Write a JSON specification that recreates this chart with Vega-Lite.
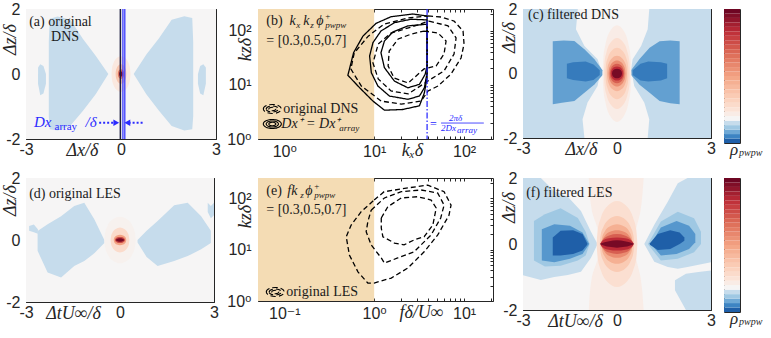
{
"$schema":"https://vega.github.io/schema/vega-lite/v6.json",
"background":"white",
"padding":0,
"datasets":{
"bg":[{"p":"a","x1":-3,"x2":3,"z1":-2,"z2":2,"v":0.01},{"p":"c","x1":-3,"x2":3,"z1":-2,"z2":2,"v":-0.01},{"p":"d","x1":-3,"x2":3,"z1":-2,"z2":2,"v":0.01},{"p":"f","x1":-3,"x2":3,"z1":-2,"z2":2,"v":0.01}],
"hz":[
{"p":"c","id":"cH","v":0.01,"z":2.0,"l":-1.25,"r":1.03},{"p":"c","id":"cH","v":0.01,"z":1.37,"l":-1.31,"r":0.98},{"p":"c","id":"cH","v":0.01,"z":0.85,"l":-1.04,"r":0.77},{"p":"c","id":"cH","v":0.01,"z":0.44,"l":-0.62,"r":0.5},{"p":"c","id":"cH","v":0.01,"z":0.13,"l":-0.51,"r":0.45},{"p":"c","id":"cH","v":0.01,"z":-0.39,"l":-0.62,"r":0.55},{"p":"c","id":"cH","v":0.01,"z":-0.9,"l":-0.94,"r":0.87},{"p":"c","id":"cH","v":0.01,"z":-1.42,"l":-1.1,"r":1.03},{"p":"c","id":"cH","v":0.01,"z":-2.0,"l":-1.04,"r":0.98},
{"p":"f","id":"fP","v":0.03,"z":2.0,"l":-0.9,"r":0.85},{"p":"f","id":"fP","v":0.03,"z":1.0,"l":-0.8,"r":0.75},{"p":"f","id":"fP","v":0.03,"z":0.3,"l":-0.6,"r":0.6},{"p":"f","id":"fP","v":0.03,"z":-0.3,"l":-0.6,"r":0.6},{"p":"f","id":"fP","v":0.03,"z":-1.0,"l":-0.8,"r":0.75},{"p":"f","id":"fP","v":0.03,"z":-2.0,"l":-0.9,"r":0.85}],
"blob":[
{"p":"a","id":"aL","v":-0.01,"x":-2.28,"t":1.0,"b":-1.3},{"p":"a","id":"aL","v":-0.01,"x":-2.25,"t":1.7,"b":-1.7},{"p":"a","id":"aL","v":-0.01,"x":-2.0,"t":1.77,"b":-1.74},{"p":"a","id":"aL","v":-0.01,"x":-1.6,"t":1.67,"b":-1.59},{"p":"a","id":"aL","v":-0.01,"x":-1.2,"t":1.08,"b":-1.13},{"p":"a","id":"aL","v":-0.01,"x":-0.8,"t":0.56,"b":-0.62},{"p":"a","id":"aL","v":-0.01,"x":-0.4,"t":0,"b":0},
{"p":"a","id":"aR","v":-0.01,"x":0.4,"t":0,"b":0},{"p":"a","id":"aR","v":-0.01,"x":0.8,"t":0.6,"b":-0.62},{"p":"a","id":"aR","v":-0.01,"x":1.2,"t":1.1,"b":-1.13},{"p":"a","id":"aR","v":-0.01,"x":1.6,"t":1.67,"b":-1.6},{"p":"a","id":"aR","v":-0.01,"x":2.0,"t":1.78,"b":-1.74},{"p":"a","id":"aR","v":-0.01,"x":2.25,"t":1.72,"b":-1.7},{"p":"a","id":"aR","v":-0.01,"x":2.28,"t":1.0,"b":-1.3},
{"p":"a","id":"aIL","v":-0.01,"x":-2.62,"t":0.2,"b":-0.3},{"p":"a","id":"aIL","v":-0.01,"x":-2.55,"t":0.3,"b":-0.65},{"p":"a","id":"aIL","v":-0.01,"x":-2.45,"t":0.25,"b":-0.6},{"p":"a","id":"aIL","v":-0.01,"x":-2.37,"t":0.0,"b":-0.3},
{"p":"a","id":"aIR","v":-0.01,"x":2.43,"t":0.0,"b":-0.3},{"p":"a","id":"aIR","v":-0.01,"x":2.5,"t":0.25,"b":-0.6},{"p":"a","id":"aIR","v":-0.01,"x":2.6,"t":0.3,"b":-0.65},{"p":"a","id":"aIR","v":-0.01,"x":2.68,"t":0.2,"b":-0.3},
{"p":"c","id":"cLo","v":-0.055,"x":-2.05,"t":1.0,"b":-0.95},{"p":"c","id":"cLo","v":-0.055,"x":-1.7,"t":1.02,"b":-0.9},{"p":"c","id":"cLo","v":-0.055,"x":-1.36,"t":1.01,"b":-0.85},{"p":"c","id":"cLo","v":-0.055,"x":-1.04,"t":0.75,"b":-0.6},{"p":"c","id":"cLo","v":-0.055,"x":-0.72,"t":0.44,"b":-0.34},{"p":"c","id":"cLo","v":-0.055,"x":-0.46,"t":0.1,"b":-0.05},
{"p":"c","id":"cRo","v":-0.055,"x":0.45,"t":0.1,"b":-0.05},{"p":"c","id":"cRo","v":-0.055,"x":0.72,"t":0.45,"b":-0.35},{"p":"c","id":"cRo","v":-0.055,"x":1.04,"t":0.8,"b":-0.6},{"p":"c","id":"cRo","v":-0.055,"x":1.36,"t":1.0,"b":-0.85},{"p":"c","id":"cRo","v":-0.055,"x":1.7,"t":1.02,"b":-0.92},{"p":"c","id":"cRo","v":-0.055,"x":2.0,"t":1.0,"b":-0.95},
{"p":"c","id":"cLi","v":-0.075,"x":-1.6,"t":0.3,"b":-0.15},{"p":"c","id":"cLi","v":-0.075,"x":-1.4,"t":0.35,"b":-0.2},{"p":"c","id":"cLi","v":-0.075,"x":-1.0,"t":0.37,"b":-0.25},{"p":"c","id":"cLi","v":-0.075,"x":-0.75,"t":0.28,"b":-0.2},{"p":"c","id":"cLi","v":-0.075,"x":-0.55,"t":0.1,"b":-0.05},
{"p":"c","id":"cRi","v":-0.075,"x":0.5,"t":0.1,"b":-0.05},{"p":"c","id":"cRi","v":-0.075,"x":0.75,"t":0.3,"b":-0.22},{"p":"c","id":"cRi","v":-0.075,"x":1.0,"t":0.37,"b":-0.25},{"p":"c","id":"cRi","v":-0.075,"x":1.4,"t":0.35,"b":-0.22},{"p":"c","id":"cRi","v":-0.075,"x":1.6,"t":0.3,"b":-0.15},
{"p":"d","id":"dL","v":-0.01,"x":-2.63,"t":0.29,"b":-0.35},{"p":"d","id":"dL","v":-0.01,"x":-2.31,"t":0.51,"b":-1.05},{"p":"d","id":"dL","v":-0.01,"x":-1.88,"t":0.77,"b":-1.21},{"p":"d","id":"dL","v":-0.01,"x":-1.46,"t":1.1,"b":-0.84},{"p":"d","id":"dL","v":-0.01,"x":-1.14,"t":1.2,"b":-0.68},{"p":"d","id":"dL","v":-0.01,"x":-0.82,"t":0.67,"b":-0.43},{"p":"d","id":"dL","v":-0.01,"x":-0.5,"t":0.0,"b":-0.1},
{"p":"d","id":"dR","v":-0.01,"x":0.56,"t":0.0,"b":-0.08},{"p":"d","id":"dR","v":-0.01,"x":0.85,"t":0.3,"b":-0.55},{"p":"d","id":"dR","v":-0.01,"x":1.2,"t":0.61,"b":-0.84},{"p":"d","id":"dR","v":-0.01,"x":1.73,"t":1.12,"b":-0.68},{"p":"d","id":"dR","v":-0.01,"x":2.16,"t":1.2,"b":-0.52},{"p":"d","id":"dR","v":-0.01,"x":2.59,"t":0.77,"b":-0.3},{"p":"d","id":"dR","v":-0.01,"x":2.9,"t":0.3,"b":-0.1},
{"p":"d","id":"dIL","v":-0.01,"x":-2.9,"t":0.45,"b":0.3},{"p":"d","id":"dIL","v":-0.01,"x":-2.75,"t":0.5,"b":0.25},{"p":"d","id":"dIL","v":-0.01,"x":-2.62,"t":0.35,"b":0.2},
{"p":"d","id":"dIR","v":-0.01,"x":2.8,"t":1.2,"b":0.9},{"p":"d","id":"dIR","v":-0.01,"x":2.9,"t":1.1,"b":0.7},{"p":"d","id":"dIR","v":-0.01,"x":3.0,"t":1.2,"b":0.8},
{"p":"f","id":"fLl","v":-0.01,"x":-3.0,"t":2.0,"b":-0.95},{"p":"f","id":"fLl","v":-0.01,"x":-2.43,"t":2.0,"b":-1.09},{"p":"f","id":"fLl","v":-0.01,"x":-2.0,"t":1.6,"b":-1.0},{"p":"f","id":"fLl","v":-0.01,"x":-1.57,"t":1.43,"b":-0.94},{"p":"f","id":"fLl","v":-0.01,"x":-1.15,"t":1.0,"b":-0.84},{"p":"f","id":"fLl","v":-0.01,"x":-0.83,"t":0.37,"b":-0.42},{"p":"f","id":"fLl","v":-0.01,"x":-0.62,"t":0,"b":0},
{"p":"f","id":"fRl","v":-0.01,"x":0.87,"t":0,"b":0},{"p":"f","id":"fRl","v":-0.01,"x":1.19,"t":0.58,"b":-0.54},{"p":"f","id":"fRl","v":-0.01,"x":1.62,"t":1.28,"b":-0.7},{"p":"f","id":"fRl","v":-0.01,"x":1.94,"t":1.84,"b":-0.75},{"p":"f","id":"fRl","v":-0.01,"x":2.25,"t":2.0,"b":-0.7},{"p":"f","id":"fRl","v":-0.01,"x":3.0,"t":2.0,"b":-0.55},
{"p":"f","id":"fBR","v":-0.01,"x":1.85,"t":-1.1,"b":-1.4},{"p":"f","id":"fBR","v":-0.01,"x":2.2,"t":-0.9,"b":-2.0},{"p":"f","id":"fBR","v":-0.01,"x":2.6,"t":-0.85,"b":-2.0},{"p":"f","id":"fBR","v":-0.01,"x":3.0,"t":-0.8,"b":-2.0},
{"p":"f","id":"fLm","v":-0.03,"x":-2.65,"t":0.7,"b":-0.5},{"p":"f","id":"fLm","v":-0.03,"x":-2.3,"t":0.9,"b":-0.68},{"p":"f","id":"fLm","v":-0.03,"x":-1.8,"t":1.08,"b":-0.66},{"p":"f","id":"fLm","v":-0.03,"x":-1.25,"t":0.79,"b":-0.5},{"p":"f","id":"fLm","v":-0.03,"x":-1.0,"t":0.37,"b":-0.35},{"p":"f","id":"fLm","v":-0.03,"x":-0.88,"t":0.02,"b":-0.02},
{"p":"f","id":"fRm","v":-0.03,"x":1.0,"t":0.02,"b":-0.02},{"p":"f","id":"fRm","v":-0.03,"x":1.4,"t":0.68,"b":-0.5},{"p":"f","id":"fRm","v":-0.03,"x":1.94,"t":0.98,"b":-0.45},{"p":"f","id":"fRm","v":-0.03,"x":2.46,"t":0.78,"b":-0.25},{"p":"f","id":"fRm","v":-0.03,"x":2.68,"t":0.37,"b":0.0},
{"p":"f","id":"fL6","v":-0.06,"x":-2.4,"t":0.45,"b":-0.5},{"p":"f","id":"fL6","v":-0.06,"x":-2.0,"t":0.6,"b":-0.55},{"p":"f","id":"fL6","v":-0.06,"x":-1.5,"t":0.55,"b":-0.45},{"p":"f","id":"fL6","v":-0.06,"x":-1.1,"t":0.35,"b":-0.3},{"p":"f","id":"fL6","v":-0.06,"x":-0.9,"t":0.02,"b":-0.02},
{"p":"f","id":"fR6","v":-0.06,"x":1.1,"t":0.02,"b":-0.02},{"p":"f","id":"fR6","v":-0.06,"x":1.4,"t":0.5,"b":-0.35},{"p":"f","id":"fR6","v":-0.06,"x":1.9,"t":0.7,"b":-0.3},{"p":"f","id":"fR6","v":-0.06,"x":2.3,"t":0.55,"b":-0.15},{"p":"f","id":"fR6","v":-0.06,"x":2.5,"t":0.3,"b":0.05},
{"p":"f","id":"fLd","v":-0.09,"x":-2.05,"t":0.2,"b":-0.35},{"p":"f","id":"fLd","v":-0.09,"x":-1.8,"t":0.4,"b":-0.35},{"p":"f","id":"fLd","v":-0.09,"x":-1.4,"t":0.42,"b":-0.3},{"p":"f","id":"fLd","v":-0.09,"x":-1.1,"t":0.3,"b":-0.2},{"p":"f","id":"fLd","v":-0.09,"x":-0.95,"t":0.02,"b":-0.02},
{"p":"f","id":"fRd","v":-0.09,"x":1.05,"t":0.02,"b":-0.02},{"p":"f","id":"fRd","v":-0.09,"x":1.3,"t":0.3,"b":-0.18},{"p":"f","id":"fRd","v":-0.09,"x":1.7,"t":0.42,"b":-0.15},{"p":"f","id":"fRd","v":-0.09,"x":2.0,"t":0.35,"b":0.0},{"p":"f","id":"fRd","v":-0.09,"x":2.15,"t":0.2,"b":0.1}],
"ell":[
{"p":"a","id":"A1","v":0.04,"x":-0.3,"t":0,"b":0},{"p":"a","id":"A1","v":0.04,"x":-0.285,"t":0.172,"b":-0.172},{"p":"a","id":"A1","v":0.04,"x":-0.24,"t":0.33,"b":-0.33},{"p":"a","id":"A1","v":0.04,"x":-0.15,"t":0.476,"b":-0.476},{"p":"a","id":"A1","v":0.04,"x":0,"t":0.55,"b":-0.55},{"p":"a","id":"A1","v":0.04,"x":0.15,"t":0.476,"b":-0.476},{"p":"a","id":"A1","v":0.04,"x":0.24,"t":0.33,"b":-0.33},{"p":"a","id":"A1","v":0.04,"x":0.285,"t":0.172,"b":-0.172},{"p":"a","id":"A1","v":0.04,"x":0.3,"t":0,"b":0},
{"p":"a","id":"A2","v":0.12,"x":-0.17,"t":0,"b":0},{"p":"a","id":"A2","v":0.12,"x":-0.162,"t":0.094,"b":-0.094},{"p":"a","id":"A2","v":0.12,"x":-0.136,"t":0.18,"b":-0.18},{"p":"a","id":"A2","v":0.12,"x":-0.085,"t":0.26,"b":-0.26},{"p":"a","id":"A2","v":0.12,"x":0,"t":0.3,"b":-0.3},{"p":"a","id":"A2","v":0.12,"x":0.085,"t":0.26,"b":-0.26},{"p":"a","id":"A2","v":0.12,"x":0.136,"t":0.18,"b":-0.18},{"p":"a","id":"A2","v":0.12,"x":0.162,"t":0.094,"b":-0.094},{"p":"a","id":"A2","v":0.12,"x":0.17,"t":0,"b":0},
{"p":"a","id":"A3","v":0.28,"x":-0.1,"t":0,"b":0},{"p":"a","id":"A3","v":0.28,"x":-0.095,"t":0.047,"b":-0.047},{"p":"a","id":"A3","v":0.28,"x":-0.08,"t":0.09,"b":-0.09},{"p":"a","id":"A3","v":0.28,"x":-0.05,"t":0.13,"b":-0.13},{"p":"a","id":"A3","v":0.28,"x":0,"t":0.15,"b":-0.15},{"p":"a","id":"A3","v":0.28,"x":0.05,"t":0.13,"b":-0.13},{"p":"a","id":"A3","v":0.28,"x":0.08,"t":0.09,"b":-0.09},{"p":"a","id":"A3","v":0.28,"x":0.095,"t":0.047,"b":-0.047},{"p":"a","id":"A3","v":0.28,"x":0.1,"t":0,"b":0},
{"p":"a","id":"A4","v":0.47,"x":-0.06,"t":0,"b":0},{"p":"a","id":"A4","v":0.47,"x":-0.057,"t":0.025,"b":-0.025},{"p":"a","id":"A4","v":0.47,"x":-0.048,"t":0.048,"b":-0.048},{"p":"a","id":"A4","v":0.47,"x":-0.03,"t":0.069,"b":-0.069},{"p":"a","id":"A4","v":0.47,"x":0,"t":0.08,"b":-0.08},{"p":"a","id":"A4","v":0.47,"x":0.03,"t":0.069,"b":-0.069},{"p":"a","id":"A4","v":0.47,"x":0.048,"t":0.048,"b":-0.048},{"p":"a","id":"A4","v":0.47,"x":0.057,"t":0.025,"b":-0.025},{"p":"a","id":"A4","v":0.47,"x":0.06,"t":0,"b":0},
{"p":"c","id":"C1","v":0.03,"x":-0.46,"t":0,"b":0},{"p":"c","id":"C1","v":0.03,"x":-0.437,"t":0.468,"b":-0.468},{"p":"c","id":"C1","v":0.03,"x":-0.368,"t":0.9,"b":-0.9},{"p":"c","id":"C1","v":0.03,"x":-0.23,"t":1.299,"b":-1.299},{"p":"c","id":"C1","v":0.03,"x":0,"t":1.5,"b":-1.5},{"p":"c","id":"C1","v":0.03,"x":0.23,"t":1.299,"b":-1.299},{"p":"c","id":"C1","v":0.03,"x":0.368,"t":0.9,"b":-0.9},{"p":"c","id":"C1","v":0.03,"x":0.437,"t":0.468,"b":-0.468},{"p":"c","id":"C1","v":0.03,"x":0.46,"t":0,"b":0},
{"p":"c","id":"C2","v":0.06,"x":-0.42,"t":0,"b":0},{"p":"c","id":"C2","v":0.06,"x":-0.399,"t":0.343,"b":-0.343},{"p":"c","id":"C2","v":0.06,"x":-0.336,"t":0.66,"b":-0.66},{"p":"c","id":"C2","v":0.06,"x":-0.21,"t":0.953,"b":-0.953},{"p":"c","id":"C2","v":0.06,"x":0,"t":1.1,"b":-1.1},{"p":"c","id":"C2","v":0.06,"x":0.21,"t":0.953,"b":-0.953},{"p":"c","id":"C2","v":0.06,"x":0.336,"t":0.66,"b":-0.66},{"p":"c","id":"C2","v":0.06,"x":0.399,"t":0.343,"b":-0.343},{"p":"c","id":"C2","v":0.06,"x":0.42,"t":0,"b":0},
{"p":"c","id":"C3","v":0.1,"x":-0.37,"t":0,"b":0},{"p":"c","id":"C3","v":0.1,"x":-0.352,"t":0.25,"b":-0.25},{"p":"c","id":"C3","v":0.1,"x":-0.296,"t":0.48,"b":-0.48},{"p":"c","id":"C3","v":0.1,"x":-0.185,"t":0.693,"b":-0.693},{"p":"c","id":"C3","v":0.1,"x":0,"t":0.8,"b":-0.8},{"p":"c","id":"C3","v":0.1,"x":0.185,"t":0.693,"b":-0.693},{"p":"c","id":"C3","v":0.1,"x":0.296,"t":0.48,"b":-0.48},{"p":"c","id":"C3","v":0.1,"x":0.352,"t":0.25,"b":-0.25},{"p":"c","id":"C3","v":0.1,"x":0.37,"t":0,"b":0},
{"p":"c","id":"C4","v":0.16,"x":-0.32,"t":0,"b":0},{"p":"c","id":"C4","v":0.16,"x":-0.304,"t":0.172,"b":-0.172},{"p":"c","id":"C4","v":0.16,"x":-0.256,"t":0.33,"b":-0.33},{"p":"c","id":"C4","v":0.16,"x":-0.16,"t":0.476,"b":-0.476},{"p":"c","id":"C4","v":0.16,"x":0,"t":0.55,"b":-0.55},{"p":"c","id":"C4","v":0.16,"x":0.16,"t":0.476,"b":-0.476},{"p":"c","id":"C4","v":0.16,"x":0.256,"t":0.33,"b":-0.33},{"p":"c","id":"C4","v":0.16,"x":0.304,"t":0.172,"b":-0.172},{"p":"c","id":"C4","v":0.16,"x":0.32,"t":0,"b":0},
{"p":"c","id":"C5","v":0.24,"x":-0.27,"t":0,"b":0},{"p":"c","id":"C5","v":0.24,"x":-0.257,"t":0.125,"b":-0.125},{"p":"c","id":"C5","v":0.24,"x":-0.216,"t":0.24,"b":-0.24},{"p":"c","id":"C5","v":0.24,"x":-0.135,"t":0.346,"b":-0.346},{"p":"c","id":"C5","v":0.24,"x":0,"t":0.4,"b":-0.4},{"p":"c","id":"C5","v":0.24,"x":0.135,"t":0.346,"b":-0.346},{"p":"c","id":"C5","v":0.24,"x":0.216,"t":0.24,"b":-0.24},{"p":"c","id":"C5","v":0.24,"x":0.257,"t":0.125,"b":-0.125},{"p":"c","id":"C5","v":0.24,"x":0.27,"t":0,"b":0},
{"p":"c","id":"C6","v":0.32,"x":-0.23,"t":0,"b":0},{"p":"c","id":"C6","v":0.32,"x":-0.219,"t":0.094,"b":-0.094},{"p":"c","id":"C6","v":0.32,"x":-0.184,"t":0.18,"b":-0.18},{"p":"c","id":"C6","v":0.32,"x":-0.115,"t":0.26,"b":-0.26},{"p":"c","id":"C6","v":0.32,"x":0,"t":0.3,"b":-0.3},{"p":"c","id":"C6","v":0.32,"x":0.115,"t":0.26,"b":-0.26},{"p":"c","id":"C6","v":0.32,"x":0.184,"t":0.18,"b":-0.18},{"p":"c","id":"C6","v":0.32,"x":0.219,"t":0.094,"b":-0.094},{"p":"c","id":"C6","v":0.32,"x":0.23,"t":0,"b":0},
{"p":"c","id":"C7","v":0.4,"x":-0.2,"t":0,"b":0},{"p":"c","id":"C7","v":0.4,"x":-0.19,"t":0.069,"b":-0.069},{"p":"c","id":"C7","v":0.4,"x":-0.16,"t":0.132,"b":-0.132},{"p":"c","id":"C7","v":0.4,"x":-0.1,"t":0.191,"b":-0.191},{"p":"c","id":"C7","v":0.4,"x":0,"t":0.22,"b":-0.22},{"p":"c","id":"C7","v":0.4,"x":0.1,"t":0.191,"b":-0.191},{"p":"c","id":"C7","v":0.4,"x":0.16,"t":0.132,"b":-0.132},{"p":"c","id":"C7","v":0.4,"x":0.19,"t":0.069,"b":-0.069},{"p":"c","id":"C7","v":0.4,"x":0.2,"t":0,"b":0},
{"p":"c","id":"C8","v":0.48,"x":-0.16,"t":0,"b":0},{"p":"c","id":"C8","v":0.48,"x":-0.152,"t":0.047,"b":-0.047},{"p":"c","id":"C8","v":0.48,"x":-0.128,"t":0.09,"b":-0.09},{"p":"c","id":"C8","v":0.48,"x":-0.08,"t":0.13,"b":-0.13},{"p":"c","id":"C8","v":0.48,"x":0,"t":0.15,"b":-0.15},{"p":"c","id":"C8","v":0.48,"x":0.08,"t":0.13,"b":-0.13},{"p":"c","id":"C8","v":0.48,"x":0.128,"t":0.09,"b":-0.09},{"p":"c","id":"C8","v":0.48,"x":0.152,"t":0.047,"b":-0.047},{"p":"c","id":"C8","v":0.48,"x":0.16,"t":0,"b":0},
{"p":"d","id":"D1","v":0.02,"x":-0.5,"t":0,"b":0},{"p":"d","id":"D1","v":0.02,"x":-0.475,"t":0.234,"b":-0.234},{"p":"d","id":"D1","v":0.02,"x":-0.4,"t":0.45,"b":-0.45},{"p":"d","id":"D1","v":0.02,"x":-0.25,"t":0.65,"b":-0.65},{"p":"d","id":"D1","v":0.02,"x":0,"t":0.75,"b":-0.75},{"p":"d","id":"D1","v":0.02,"x":0.25,"t":0.65,"b":-0.65},{"p":"d","id":"D1","v":0.02,"x":0.4,"t":0.45,"b":-0.45},{"p":"d","id":"D1","v":0.02,"x":0.475,"t":0.234,"b":-0.234},{"p":"d","id":"D1","v":0.02,"x":0.5,"t":0,"b":0},
{"p":"d","id":"D2","v":0.07,"x":-0.3,"t":0,"b":0},{"p":"d","id":"D2","v":0.07,"x":-0.285,"t":0.125,"b":-0.125},{"p":"d","id":"D2","v":0.07,"x":-0.24,"t":0.24,"b":-0.24},{"p":"d","id":"D2","v":0.07,"x":-0.15,"t":0.346,"b":-0.346},{"p":"d","id":"D2","v":0.07,"x":0,"t":0.4,"b":-0.4},{"p":"d","id":"D2","v":0.07,"x":0.15,"t":0.346,"b":-0.346},{"p":"d","id":"D2","v":0.07,"x":0.24,"t":0.24,"b":-0.24},{"p":"d","id":"D2","v":0.07,"x":0.285,"t":0.125,"b":-0.125},{"p":"d","id":"D2","v":0.07,"x":0.3,"t":0,"b":0},
{"p":"d","id":"D3","v":0.2,"x":-0.2,"t":0,"b":0},{"p":"d","id":"D3","v":0.2,"x":-0.19,"t":0.053,"b":-0.053},{"p":"d","id":"D3","v":0.2,"x":-0.16,"t":0.102,"b":-0.102},{"p":"d","id":"D3","v":0.2,"x":-0.1,"t":0.147,"b":-0.147},{"p":"d","id":"D3","v":0.2,"x":0,"t":0.17,"b":-0.17},{"p":"d","id":"D3","v":0.2,"x":0.1,"t":0.147,"b":-0.147},{"p":"d","id":"D3","v":0.2,"x":0.16,"t":0.102,"b":-0.102},{"p":"d","id":"D3","v":0.2,"x":0.19,"t":0.053,"b":-0.053},{"p":"d","id":"D3","v":0.2,"x":0.2,"t":0,"b":0},
{"p":"d","id":"D4","v":0.35,"x":-0.16,"t":0,"b":0},{"p":"d","id":"D4","v":0.35,"x":-0.152,"t":0.031,"b":-0.031},{"p":"d","id":"D4","v":0.35,"x":-0.128,"t":0.06,"b":-0.06},{"p":"d","id":"D4","v":0.35,"x":-0.08,"t":0.087,"b":-0.087},{"p":"d","id":"D4","v":0.35,"x":0,"t":0.1,"b":-0.1},{"p":"d","id":"D4","v":0.35,"x":0.08,"t":0.087,"b":-0.087},{"p":"d","id":"D4","v":0.35,"x":0.128,"t":0.06,"b":-0.06},{"p":"d","id":"D4","v":0.35,"x":0.152,"t":0.031,"b":-0.031},{"p":"d","id":"D4","v":0.35,"x":0.16,"t":0,"b":0},
{"p":"d","id":"D5","v":0.48,"x":-0.13,"t":0,"b":0},{"p":"d","id":"D5","v":0.48,"x":-0.124,"t":0.019,"b":-0.019},{"p":"d","id":"D5","v":0.48,"x":-0.104,"t":0.036,"b":-0.036},{"p":"d","id":"D5","v":0.48,"x":-0.065,"t":0.052,"b":-0.052},{"p":"d","id":"D5","v":0.48,"x":0,"t":0.06,"b":-0.06},{"p":"d","id":"D5","v":0.48,"x":0.065,"t":0.052,"b":-0.052},{"p":"d","id":"D5","v":0.48,"x":0.104,"t":0.036,"b":-0.036},{"p":"d","id":"D5","v":0.48,"x":0.124,"t":0.019,"b":-0.019},{"p":"d","id":"D5","v":0.48,"x":0.13,"t":0,"b":0},
{"p":"f","id":"F2","v":0.06,"x":-0.65,"t":0,"b":0},{"p":"f","id":"F2","v":0.06,"x":-0.618,"t":0.406,"b":-0.406},{"p":"f","id":"F2","v":0.06,"x":-0.52,"t":0.78,"b":-0.78},{"p":"f","id":"F2","v":0.06,"x":-0.325,"t":1.126,"b":-1.126},{"p":"f","id":"F2","v":0.06,"x":0,"t":1.3,"b":-1.3},{"p":"f","id":"F2","v":0.06,"x":0.325,"t":1.126,"b":-1.126},{"p":"f","id":"F2","v":0.06,"x":0.52,"t":0.78,"b":-0.78},{"p":"f","id":"F2","v":0.06,"x":0.618,"t":0.406,"b":-0.406},{"p":"f","id":"F2","v":0.06,"x":0.65,"t":0,"b":0},
{"p":"f","id":"F3","v":0.11,"x":-0.55,"t":0,"b":0},{"p":"f","id":"F3","v":0.11,"x":-0.523,"t":0.265,"b":-0.265},{"p":"f","id":"F3","v":0.11,"x":-0.44,"t":0.51,"b":-0.51},{"p":"f","id":"F3","v":0.11,"x":-0.275,"t":0.736,"b":-0.736},{"p":"f","id":"F3","v":0.11,"x":0,"t":0.85,"b":-0.85},{"p":"f","id":"F3","v":0.11,"x":0.275,"t":0.736,"b":-0.736},{"p":"f","id":"F3","v":0.11,"x":0.44,"t":0.51,"b":-0.51},{"p":"f","id":"F3","v":0.11,"x":0.523,"t":0.265,"b":-0.265},{"p":"f","id":"F3","v":0.11,"x":0.55,"t":0,"b":0},
{"p":"f","id":"F4","v":0.17,"x":-0.5,"t":0,"b":0},{"p":"f","id":"F4","v":0.17,"x":-0.475,"t":0.187,"b":-0.187},{"p":"f","id":"F4","v":0.17,"x":-0.4,"t":0.36,"b":-0.36},{"p":"f","id":"F4","v":0.17,"x":-0.25,"t":0.52,"b":-0.52},{"p":"f","id":"F4","v":0.17,"x":0,"t":0.6,"b":-0.6},{"p":"f","id":"F4","v":0.17,"x":0.25,"t":0.52,"b":-0.52},{"p":"f","id":"F4","v":0.17,"x":0.4,"t":0.36,"b":-0.36},{"p":"f","id":"F4","v":0.17,"x":0.475,"t":0.187,"b":-0.187},{"p":"f","id":"F4","v":0.17,"x":0.5,"t":0,"b":0},
{"p":"f","id":"F5","v":0.24,"x":-0.48,"t":0,"b":0},{"p":"f","id":"F5","v":0.24,"x":-0.456,"t":0.131,"b":-0.131},{"p":"f","id":"F5","v":0.24,"x":-0.384,"t":0.252,"b":-0.252},{"p":"f","id":"F5","v":0.24,"x":-0.24,"t":0.364,"b":-0.364},{"p":"f","id":"F5","v":0.24,"x":0,"t":0.42,"b":-0.42},{"p":"f","id":"F5","v":0.24,"x":0.24,"t":0.364,"b":-0.364},{"p":"f","id":"F5","v":0.24,"x":0.384,"t":0.252,"b":-0.252},{"p":"f","id":"F5","v":0.24,"x":0.456,"t":0.131,"b":-0.131},{"p":"f","id":"F5","v":0.24,"x":0.48,"t":0,"b":0},
{"p":"f","id":"F6","v":0.32,"x":-0.5,"t":0,"b":0},{"p":"f","id":"F6","v":0.32,"x":-0.475,"t":0.094,"b":-0.094},{"p":"f","id":"F6","v":0.32,"x":-0.4,"t":0.18,"b":-0.18},{"p":"f","id":"F6","v":0.32,"x":-0.25,"t":0.26,"b":-0.26},{"p":"f","id":"F6","v":0.32,"x":0,"t":0.3,"b":-0.3},{"p":"f","id":"F6","v":0.32,"x":0.25,"t":0.26,"b":-0.26},{"p":"f","id":"F6","v":0.32,"x":0.4,"t":0.18,"b":-0.18},{"p":"f","id":"F6","v":0.32,"x":0.475,"t":0.094,"b":-0.094},{"p":"f","id":"F6","v":0.32,"x":0.5,"t":0,"b":0},
{"p":"f","id":"F7","v":0.4,"x":-0.53,"t":0,"b":0},{"p":"f","id":"F7","v":0.4,"x":-0.504,"t":0.062,"b":-0.062},{"p":"f","id":"F7","v":0.4,"x":-0.424,"t":0.12,"b":-0.12},{"p":"f","id":"F7","v":0.4,"x":-0.265,"t":0.173,"b":-0.173},{"p":"f","id":"F7","v":0.4,"x":0,"t":0.2,"b":-0.2},{"p":"f","id":"F7","v":0.4,"x":0.265,"t":0.173,"b":-0.173},{"p":"f","id":"F7","v":0.4,"x":0.424,"t":0.12,"b":-0.12},{"p":"f","id":"F7","v":0.4,"x":0.504,"t":0.062,"b":-0.062},{"p":"f","id":"F7","v":0.4,"x":0.53,"t":0,"b":0},
{"p":"f","id":"F8","v":0.48,"x":-0.55,"t":0,"b":0},{"p":"f","id":"F8","v":0.48,"x":-0.5,"t":0.02,"b":-0.02},{"p":"f","id":"F8","v":0.48,"x":-0.4,"t":0.05,"b":-0.05},{"p":"f","id":"F8","v":0.48,"x":-0.25,"t":0.085,"b":-0.085},{"p":"f","id":"F8","v":0.48,"x":0,"t":0.11,"b":-0.11},{"p":"f","id":"F8","v":0.48,"x":0.25,"t":0.085,"b":-0.085},{"p":"f","id":"F8","v":0.48,"x":0.4,"t":0.05,"b":-0.05},{"p":"f","id":"F8","v":0.48,"x":0.5,"t":0.02,"b":-0.02},{"p":"f","id":"F8","v":0.48,"x":0.55,"t":0,"b":0}],
"cont":[
{"p":"b","c":"s3","kind":"solid","i":0,"k":38.8,"kz":186},{"p":"b","c":"s3","kind":"solid","i":1,"k":26.9,"kz":202},{"p":"b","c":"s3","kind":"solid","i":2,"k":15.4,"kz":180},{"p":"b","c":"s3","kind":"solid","i":3,"k":10.5,"kz":136},{"p":"b","c":"s3","kind":"solid","i":4,"k":7.5,"kz":79},{"p":"b","c":"s3","kind":"solid","i":5,"k":5.9,"kz":39},{"p":"b","c":"s3","kind":"solid","i":6,"k":5.1,"kz":15},{"p":"b","c":"s3","kind":"solid","i":7,"k":6.9,"kz":8.8},{"p":"b","c":"s3","kind":"solid","i":8,"k":9.7,"kz":5.0},{"p":"b","c":"s3","kind":"solid","i":9,"k":13.0,"kz":3.4},{"p":"b","c":"s3","kind":"solid","i":10,"k":20.8,"kz":3.5},{"p":"b","c":"s3","kind":"solid","i":11,"k":31.9,"kz":4.1},{"p":"b","c":"s3","kind":"solid","i":12,"k":36.2,"kz":7.1},{"p":"b","c":"s3","kind":"solid","i":13,"k":38.8,"kz":13.5},{"p":"b","c":"s3","kind":"solid","i":14,"k":38.8,"kz":186},
{"p":"b","c":"s5","kind":"solid","i":0,"k":38.8,"kz":157},{"p":"b","c":"s5","kind":"solid","i":1,"k":25.8,"kz":162},{"p":"b","c":"s5","kind":"solid","i":2,"k":16.8,"kz":140},{"p":"b","c":"s5","kind":"solid","i":3,"k":11.9,"kz":98},{"p":"b","c":"s5","kind":"solid","i":4,"k":9.7,"kz":60},{"p":"b","c":"s5","kind":"solid","i":5,"k":8.9,"kz":34},{"p":"b","c":"s5","kind":"solid","i":6,"k":9.3,"kz":16.7},{"p":"b","c":"s5","kind":"solid","i":7,"k":11.0,"kz":9.5},{"p":"b","c":"s5","kind":"solid","i":8,"k":14.8,"kz":6.2},{"p":"b","c":"s5","kind":"solid","i":9,"k":23.7,"kz":5.4},{"p":"b","c":"s5","kind":"solid","i":10,"k":31.9,"kz":6.2},{"p":"b","c":"s5","kind":"solid","i":11,"k":36.2,"kz":8.8},{"p":"b","c":"s5","kind":"solid","i":12,"k":38.8,"kz":16.7},{"p":"b","c":"s5","kind":"solid","i":13,"k":38.8,"kz":157},
{"p":"b","c":"s7","kind":"solid","i":0,"k":38.8,"kz":131},{"p":"b","c":"s7","kind":"solid","i":1,"k":23.7,"kz":122},{"p":"b","c":"s7","kind":"solid","i":2,"k":16.1,"kz":94},{"p":"b","c":"s7","kind":"solid","i":3,"k":13.0,"kz":64},{"p":"b","c":"s7","kind":"solid","i":4,"k":11.9,"kz":39},{"p":"b","c":"s7","kind":"solid","i":5,"k":13.0,"kz":20.7},{"p":"b","c":"s7","kind":"solid","i":6,"k":16.8,"kz":11.7},{"p":"b","c":"s7","kind":"solid","i":7,"k":23.7,"kz":8.8},{"p":"b","c":"s7","kind":"solid","i":8,"k":31.9,"kz":10.2},{"p":"b","c":"s7","kind":"solid","i":9,"k":36.9,"kz":15.6},{"p":"b","c":"s7","kind":"solid","i":10,"k":38.8,"kz":22},{"p":"b","c":"s7","kind":"solid","i":11,"k":38.8,"kz":131},
{"p":"b","c":"d3","kind":"dashed","i":0,"k":39.8,"kz":186},{"p":"b","c":"d3","kind":"dashed","i":1,"k":55.5,"kz":178},{"p":"b","c":"d3","kind":"dashed","i":2,"k":77.4,"kz":150},{"p":"b","c":"d3","kind":"dashed","i":3,"k":97.5,"kz":98},{"p":"b","c":"d3","kind":"dashed","i":4,"k":100,"kz":56.6},{"p":"b","c":"d3","kind":"dashed","i":5,"k":92.6,"kz":31.2},{"p":"b","c":"d3","kind":"dashed","i":6,"k":71.7,"kz":15.8},{"p":"b","c":"d3","kind":"dashed","i":7,"k":51.4,"kz":9.5},{"p":"b","c":"d3","kind":"dashed","i":8,"k":39.8,"kz":7.7},{"p":"b","c":"d3","kind":"dashed","i":9,"k":33.3,"kz":5.0},{"p":"b","c":"d3","kind":"dashed","i":10,"k":20,"kz":4.4},{"p":"b","c":"d3","kind":"dashed","i":11,"k":12.0,"kz":5.0},{"p":"b","c":"d3","kind":"dashed","i":12,"k":7.2,"kz":9.5},{"p":"b","c":"d3","kind":"dashed","i":13,"k":5.5,"kz":19.6},{"p":"b","c":"d3","kind":"dashed","i":14,"k":6.0,"kz":38.6},{"p":"b","c":"d3","kind":"dashed","i":15,"k":8.6,"kz":79},{"p":"b","c":"d3","kind":"dashed","i":16,"k":12.9,"kz":132},{"p":"b","c":"d3","kind":"dashed","i":17,"k":23.9,"kz":171},{"p":"b","c":"d3","kind":"dashed","i":18,"k":39.8,"kz":186},
{"p":"b","c":"d5","kind":"dashed","i":0,"k":40.8,"kz":150},{"p":"b","c":"d5","kind":"dashed","i":1,"k":66.4,"kz":122},{"p":"b","c":"d5","kind":"dashed","i":2,"k":81.5,"kz":73},{"p":"b","c":"d5","kind":"dashed","i":3,"k":77.4,"kz":37},{"p":"b","c":"d5","kind":"dashed","i":4,"k":59.9,"kz":18},{"p":"b","c":"d5","kind":"dashed","i":5,"k":43,"kz":12.8},{"p":"b","c":"d5","kind":"dashed","i":6,"k":23.9,"kz":6.8},{"p":"b","c":"d5","kind":"dashed","i":7,"k":15.4,"kz":7.7},{"p":"b","c":"d5","kind":"dashed","i":8,"k":11.1,"kz":12.8},{"p":"b","c":"d5","kind":"dashed","i":9,"k":9.7,"kz":25.3},{"p":"b","c":"d5","kind":"dashed","i":10,"k":11.1,"kz":56.6},{"p":"b","c":"d5","kind":"dashed","i":11,"k":15.4,"kz":90},{"p":"b","c":"d5","kind":"dashed","i":12,"k":25.8,"kz":116},{"p":"b","c":"d5","kind":"dashed","i":13,"k":40.8,"kz":150},
{"p":"b","c":"d7","kind":"dashed","i":0,"k":35.9,"kz":98},{"p":"b","c":"d7","kind":"dashed","i":1,"k":51.4,"kz":90},{"p":"b","c":"d7","kind":"dashed","i":2,"k":63.1,"kz":64},{"p":"b","c":"d7","kind":"dashed","i":3,"k":59.9,"kz":37},{"p":"b","c":"d7","kind":"dashed","i":4,"k":48.9,"kz":22.2},{"p":"b","c":"d7","kind":"dashed","i":5,"k":35.9,"kz":19.6},{"p":"b","c":"d7","kind":"dashed","i":6,"k":23.9,"kz":10.8},{"p":"b","c":"d7","kind":"dashed","i":7,"k":16.7,"kz":13.3},{"p":"b","c":"d7","kind":"dashed","i":8,"k":14.3,"kz":22.2},{"p":"b","c":"d7","kind":"dashed","i":9,"k":14.7,"kz":42},{"p":"b","c":"d7","kind":"dashed","i":10,"k":18.5,"kz":70},{"p":"b","c":"d7","kind":"dashed","i":11,"k":25.8,"kz":86},{"p":"b","c":"d7","kind":"dashed","i":12,"k":35.9,"kz":98},
{"p":"e","c":"e3","kind":"dashed","i":0,"k":1,"kz":93},{"p":"e","c":"e3","kind":"dashed","i":1,"k":1.29,"kz":135},{"p":"e","c":"e3","kind":"dashed","i":2,"k":2.37,"kz":160},{"p":"e","c":"e3","kind":"dashed","i":3,"k":3.95,"kz":182},{"p":"e","c":"e3","kind":"dashed","i":4,"k":6.0,"kz":135},{"p":"e","c":"e3","kind":"dashed","i":5,"k":7.17,"kz":74},{"p":"e","c":"e3","kind":"dashed","i":6,"k":6.8,"kz":47},{"p":"e","c":"e3","kind":"dashed","i":7,"k":5.1,"kz":19.4},{"p":"e","c":"e3","kind":"dashed","i":8,"k":3.6,"kz":9.1},{"p":"e","c":"e3","kind":"dashed","i":9,"k":2.37,"kz":4.4},{"p":"e","c":"e3","kind":"dashed","i":10,"k":1.55,"kz":2.8},{"p":"e","c":"e3","kind":"dashed","i":11,"k":1,"kz":2.24},{"p":"e","c":"e3","kind":"dashed","i":12,"k":0.85,"kz":2.24},{"p":"e","c":"e3","kind":"dashed","i":13,"k":0.66,"kz":3.7},{"p":"e","c":"e3","kind":"dashed","i":14,"k":0.53,"kz":7.9},{"p":"e","c":"e3","kind":"dashed","i":15,"k":0.489,"kz":17.9},{"p":"e","c":"e3","kind":"dashed","i":16,"k":0.555,"kz":30.3},{"p":"e","c":"e3","kind":"dashed","i":17,"k":0.717,"kz":55},{"p":"e","c":"e3","kind":"dashed","i":18,"k":1,"kz":93},
{"p":"e","c":"e5","kind":"dashed","i":0,"k":0.926,"kz":59},{"p":"e","c":"e5","kind":"dashed","i":1,"k":1.3,"kz":102},{"p":"e","c":"e5","kind":"dashed","i":2,"k":2.0,"kz":135},{"p":"e","c":"e5","kind":"dashed","i":3,"k":3.33,"kz":146},{"p":"e","c":"e5","kind":"dashed","i":4,"k":5.1,"kz":127},{"p":"e","c":"e5","kind":"dashed","i":5,"k":6.0,"kz":74},{"p":"e","c":"e5","kind":"dashed","i":6,"k":5.5,"kz":41.5},{"p":"e","c":"e5","kind":"dashed","i":7,"k":4.3,"kz":19.4},{"p":"e","c":"e5","kind":"dashed","i":8,"k":2.78,"kz":9.1},{"p":"e","c":"e5","kind":"dashed","i":9,"k":1.83,"kz":6.9},{"p":"e","c":"e5","kind":"dashed","i":10,"k":1.3,"kz":5.5},{"p":"e","c":"e5","kind":"dashed","i":11,"k":1.2,"kz":6.9},{"p":"e","c":"e5","kind":"dashed","i":12,"k":0.926,"kz":12.4},{"p":"e","c":"e5","kind":"dashed","i":13,"k":0.815,"kz":22.4},{"p":"e","c":"e5","kind":"dashed","i":14,"k":0.85,"kz":35},{"p":"e","c":"e5","kind":"dashed","i":15,"k":0.926,"kz":59},
{"p":"e","c":"e7","kind":"dashed","i":0,"k":1.2,"kz":41.5},{"p":"e","c":"e7","kind":"dashed","i":1,"k":1.42,"kz":69},{"p":"e","c":"e7","kind":"dashed","i":2,"k":2.0,"kz":102},{"p":"e","c":"e7","kind":"dashed","i":3,"k":3.06,"kz":108},{"p":"e","c":"e7","kind":"dashed","i":4,"k":4.3,"kz":93},{"p":"e","c":"e7","kind":"dashed","i":5,"k":4.9,"kz":65},{"p":"e","c":"e7","kind":"dashed","i":6,"k":4.5,"kz":30.3},{"p":"e","c":"e7","kind":"dashed","i":7,"k":3.6,"kz":17.9},{"p":"e","c":"e7","kind":"dashed","i":8,"k":2.78,"kz":15.5},{"p":"e","c":"e7","kind":"dashed","i":9,"k":2.15,"kz":12.4},{"p":"e","c":"e7","kind":"dashed","i":10,"k":1.68,"kz":13.5},{"p":"e","c":"e7","kind":"dashed","i":11,"k":1.25,"kz":17.9},{"p":"e","c":"e7","kind":"dashed","i":12,"k":1.2,"kz":26.5},{"p":"e","c":"e7","kind":"dashed","i":13,"k":1.2,"kz":41.5}],
"shade":[{"p":"b","lo":0.51,"hi":10},{"p":"e","lo":0.051,"hi":1}],
"vline":[{"k":38.8}],
"frac":[{"x1":55.5,"x2":166,"y":1.97}],
"icons":[{"p":"b","x":0.736,"y":3.58,"kind":"dashed"},{"p":"b","x":0.736,"y":1.89,"kind":"solid"},{"p":"e","x":0.0794,"y":1.5,"kind":"dashed"}],
"vl":[{"x":-0.02,"g":"o"},{"x":0.06,"g":"a"},{"x":0.12,"g":"a"}],
"arr":[{"x1":-0.69,"x2":-0.2,"z":-1.5},{"x1":0.24,"x2":0.69,"z":-1.5}],
"tri":[{"x":-0.15,"z":-1.5,"d":"r"},{"x":0.2,"z":-1.5,"d":"l"}],
"tup":[{"p":"a","t":"(a) original","x":-2.9,"y":1.6},{"p":"a","t":"DNS","x":-2.21,"y":1.15},{"p":"c","t":"(c) filtered DNS","x":-2.84,"y":1.8},{"p":"d","t":"(d) original LES","x":-2.9,"y":1.5},{"p":"f","t":"(f) filtered LES","x":-2.9,"y":1.56},{"p":"b","t":"(b)","x":0.631,"y":150},{"p":"b","t":"= [0.3,0.5,0.7]","x":0.631,"y":64},{"p":"b","t":"original DNS","x":0.975,"y":3.58},{"p":"e","t":"(e)","x":0.0631,"y":139},{"p":"e","t":"= [0.3,0.5,0.7]","x":0.0631,"y":59},{"p":"e","t":"original LES","x":0.105,"y":1.5}],
"tit":[{"p":"b","t":"k","x":1.14,"y":150},{"p":"b","t":"k","x":1.63,"y":150},{"p":"b","t":"ϕ","x":2.27,"y":150},{"p":"b","t":"Dx⁺ = Dx⁺","x":0.926,"y":1.89},{"p":"e","t":"fk","x":0.108,"y":139},{"p":"e","t":"ϕ","x":0.171,"y":139}],
"tsub":[{"p":"b","t":"x","x":1.36,"y":127},{"p":"b","t":"z","x":1.94,"y":127},{"p":"b","t":"pwpw","x":2.85,"y":127},{"p":"b","t":"array","x":4.09,"y":1.6},{"p":"e","t":"z","x":0.151,"y":116},{"p":"e","t":"pwpw","x":0.215,"y":116}],
"tsup":[{"p":"b","t":"+","x":2.85,"y":186},{"p":"e","t":"+","x":0.215,"y":175}],
"tb15":[{"t":"Dx","x":-2.75,"y":-1.48},{"t":"/δ","x":-1.12,"y":-1.48}],
"tb11":[{"t":"array","x":-2.1,"y":-1.62}],
"tb12":[{"t":"=","x":41.9,"y":1.89}],
"tb9":[{"t":"2πδ","x":68.1,"y":2.44},{"t":"2Dx","x":55.5,"y":1.6},{"t":"array","x":83.6,"y":1.47}],
"cbar":[{"lo":-0.1,"hi":-0.08,"v":-0.09},{"lo":-0.08,"hi":-0.06,"v":-0.07},{"lo":-0.06,"hi":-0.04,"v":-0.05},{"lo":-0.04,"hi":-0.02,"v":-0.03},{"lo":-0.02,"hi":0,"v":-0.01},{"lo":0,"hi":0.02,"v":0.01},{"lo":0.02,"hi":0.04,"v":0.03},{"lo":0.04,"hi":0.06,"v":0.05},{"lo":0.06,"hi":0.08,"v":0.07},{"lo":0.08,"hi":0.1,"v":0.09},{"lo":0.1,"hi":0.12,"v":0.11},{"lo":0.12,"hi":0.14,"v":0.13},{"lo":0.14,"hi":0.16,"v":0.15},{"lo":0.16,"hi":0.18,"v":0.17},{"lo":0.18,"hi":0.2,"v":0.19},{"lo":0.2,"hi":0.22,"v":0.21},{"lo":0.22,"hi":0.24,"v":0.23},{"lo":0.24,"hi":0.26,"v":0.25},{"lo":0.26,"hi":0.28,"v":0.27},{"lo":0.28,"hi":0.3,"v":0.29},{"lo":0.3,"hi":0.32,"v":0.31},{"lo":0.32,"hi":0.34,"v":0.33},{"lo":0.34,"hi":0.36,"v":0.35},{"lo":0.36,"hi":0.38,"v":0.37},{"lo":0.38,"hi":0.4,"v":0.39},{"lo":0.4,"hi":0.42,"v":0.41},{"lo":0.42,"hi":0.44,"v":0.43},{"lo":0.44,"hi":0.46,"v":0.45},{"lo":0.46,"hi":0.48,"v":0.47},{"lo":0.48,"hi":0.5,"v":0.49}],
"rho":[{"t":"ρ","y":-0.133}],
"rhos":[{"t":"pwpw","y":-0.145}],
"sp":[{"n":0}]
},
"concat":[
{"width":190,"height":130,"resolve":{"axis":{"x":"independent","y":"independent"}},"layer":[
 {"data":{"name":"bg"},"transform":[{"filter":"datum.p=='a'"}],"mark":"rect","encoding":{"x":{"field":"x1","type":"quantitative","scale":{"domain":[-3,3],"nice":false,"zero":false},"axis":{"orient":"bottom","values":[-3,0,3],"labelExpr":"datum.value + ''","labelPadding":6,"title":"Δx/δ","titleX":56,"titleY":2,"titleBaseline":"top","titleAlign":"center"}},"x2":{"field":"x2"},"y":{"field":"z1","type":"quantitative","scale":{"domain":[-2,2],"nice":false,"zero":false},"axis":{"orient":"left","values":[-2,0,2],"labelExpr":"datum.value + ''","labelPadding":10,"title":"Δz/δ","titleX":-16,"titleY":30,"titleAngle":270,"titleAlign":"center","titleBaseline":"middle"}},"y2":{"field":"z2"},"color":{"field":"v","type":"quantitative","scale":{"domain":[-0.09,-0.07,-0.05,-0.03,-0.01,0.01,0.05,0.1,0.2,0.3,0.4,0.49],"range":["#1f5fa8","#3d84c3","#6fa9d6","#9fc8e3","#c6dcec","#f6f5f5","#fbe3d7","#fbcfb9","#f3a283","#dd6c57","#bd2b37","#6e0623"],"interpolate":"rgb","clamp":true},"legend":null}}},
 {"data":{"name":"bg"},"transform":[{"filter":"datum.p=='a'"}],"mark":{"type":"rect","opacity":0},"encoding":{"x":{"field":"x1","type":"quantitative","scale":{"domain":[-3,3],"nice":false,"zero":false},"axis":{"orient":"top","values":[-3,0,3],"labels":false,"title":null}},"x2":{"field":"x2"},"y":{"field":"z1","type":"quantitative","scale":{"domain":[-2,2],"nice":false,"zero":false},"axis":{"orient":"right","values":[-2,0,2],"labels":false,"title":null}},"y2":{"field":"z2"}}},
 {"data":{"name":"blob"},"transform":[{"filter":"datum.p=='a'"}],"mark":{"type":"area","interpolate":"linear","clip":true},"encoding":{"x":{"field":"x","type":"quantitative","scale":{"domain":[-3,3],"nice":false,"zero":false},"axis":null},"y":{"field":"t","type":"quantitative","scale":{"domain":[-2,2],"nice":false,"zero":false},"axis":null,"stack":null},"y2":{"field":"b"},"color":{"field":"v","type":"quantitative","scale":{"domain":[-0.09,-0.07,-0.05,-0.03,-0.01,0.01,0.05,0.1,0.2,0.3,0.4,0.49],"range":["#1f5fa8","#3d84c3","#6fa9d6","#9fc8e3","#c6dcec","#f6f5f5","#fbe3d7","#fbcfb9","#f3a283","#dd6c57","#bd2b37","#6e0623"],"interpolate":"rgb","clamp":true},"legend":null},"detail":{"field":"id","type":"nominal"}}},
 {"data":{"name":"ell"},"transform":[{"filter":"datum.p=='a'"}],"mark":{"type":"area","interpolate":"monotone","clip":true},"encoding":{"x":{"field":"x","type":"quantitative","scale":{"domain":[-3,3],"nice":false,"zero":false},"axis":null},"y":{"field":"t","type":"quantitative","scale":{"domain":[-2,2],"nice":false,"zero":false},"axis":null,"stack":null},"y2":{"field":"b"},"color":{"field":"v","type":"quantitative","scale":{"domain":[-0.09,-0.07,-0.05,-0.03,-0.01,0.01,0.05,0.1,0.2,0.3,0.4,0.49],"range":["#1f5fa8","#3d84c3","#6fa9d6","#9fc8e3","#c6dcec","#f6f5f5","#fbe3d7","#fbcfb9","#f3a283","#dd6c57","#bd2b37","#6e0623"],"interpolate":"rgb","clamp":true},"legend":null},"detail":{"field":"id","type":"nominal"}}},
 {"data":{"name":"vl"},"transform":[{"filter":"datum.g=='o'"}],"mark":{"type":"rule","color":"#1c1c40","strokeWidth":1.5},"encoding":{"x":{"field":"x","type":"quantitative","scale":{"domain":[-3,3],"nice":false,"zero":false},"axis":null}}},
 {"data":{"name":"vl"},"transform":[{"filter":"datum.g=='a'"}],"mark":{"type":"rule","color":"#3a3aff","strokeWidth":1.3},"encoding":{"x":{"field":"x","type":"quantitative","scale":{"domain":[-3,3],"nice":false,"zero":false},"axis":null}}},
 {"data":{"name":"arr"},"mark":{"type":"rule","color":"#2b2bff","strokeWidth":2,"strokeDash":[2,2]},"encoding":{"x":{"field":"x1","type":"quantitative","scale":{"domain":[-3,3],"nice":false,"zero":false},"axis":null},"x2":{"field":"x2"},"y":{"field":"z","type":"quantitative","scale":{"domain":[-2,2],"nice":false,"zero":false},"axis":null}}},
 {"data":{"name":"tri"},"mark":{"type":"point","filled":true,"color":"#2b2bff","opacity":1,"size":45},"encoding":{"x":{"field":"x","type":"quantitative","scale":{"domain":[-3,3],"nice":false,"zero":false},"axis":null},"y":{"field":"z","type":"quantitative","scale":{"domain":[-2,2],"nice":false,"zero":false},"axis":null},"shape":{"field":"d","type":"nominal","scale":{"domain":["r","l"],"range":["triangle-right","triangle-left"]},"legend":null}}},
 {"data":{"name":"tb15"},"mark":{"type":"text","font":"Liberation Serif","fontStyle":"italic","fontSize":15,"align":"left","baseline":"middle","color":"#2b2bff"},"encoding":{"x":{"field":"x","type":"quantitative","scale":{"domain":[-3,3],"nice":false,"zero":false},"axis":null},"y":{"field":"y","type":"quantitative","scale":{"domain":[-2,2],"nice":false,"zero":false},"axis":null},"text":{"field":"t"}}},
 {"data":{"name":"tb11"},"mark":{"type":"text","font":"Liberation Serif","fontSize":11,"align":"left","baseline":"middle","color":"#2b2bff"},"encoding":{"x":{"field":"x","type":"quantitative","scale":{"domain":[-3,3],"nice":false,"zero":false},"axis":null},"y":{"field":"y","type":"quantitative","scale":{"domain":[-2,2],"nice":false,"zero":false},"axis":null},"text":{"field":"t"}}},
 {"data":{"name":"tup"},"transform":[{"filter":"datum.p=='a'"}],"mark":{"type":"text","font":"Liberation Serif","fontSize":14,"align":"left","baseline":"middle","color":"#1a1a1a"},"encoding":{"x":{"field":"x","type":"quantitative","scale":{"domain":[-3,3],"nice":false,"zero":false},"axis":null},"y":{"field":"y","type":"quantitative","scale":{"domain":[-2,2],"nice":false,"zero":false},"axis":null},"text":{"field":"t"}}}
]},
{"width":16,"height":1,"data":{"name":"sp"},"mark":{"type":"point","opacity":0},"view":{"stroke":null}},
{"width":235,"height":130,"resolve":{"axis":{"x":"independent","y":"independent"}},"layer":[
 {"data":{"name":"shade"},"transform":[{"filter":"datum.p=='b'"}],"mark":{"type":"rect","color":"#f4dcb4"},"encoding":{"x":{"field":"lo","type":"quantitative","scale":{"type":"log","domain":[0.51,210],"nice":false},"axis":{"orient":"bottom","values":[0.6,0.7,0.8,0.9,1,2,3,4,5,6,7,8,9,10,20,30,40,50,60,70,80,90,100,200],"tickSize":-3,"labelPadding":7,"labelExpr":"datum.value == 1 ? '10⁰' : datum.value == 10 ? '10¹' : datum.value == 100 ? '10²' : ''","title":"kₓδ","titleX":154,"titleY":2,"titleBaseline":"top","titleAlign":"center"}},"x2":{"field":"hi"}}},
 {"data":{"name":"cont"},"transform":[{"filter":"datum.p=='b'"}],"mark":{"type":"point","opacity":0},"encoding":{"x":{"field":"k","type":"quantitative","scale":{"type":"log","domain":[0.51,210],"nice":false},"axis":{"orient":"top","values":[0.6,0.7,0.8,0.9,1,2,3,4,5,6,7,8,9,10,20,30,40,50,60,70,80,90,100,200],"tickSize":-3,"labels":false,"title":null}},"y":{"field":"kz","type":"quantitative","scale":{"type":"log","domain":[1,250],"nice":false},"axis":{"orient":"right","values":[1,2,3,4,5,6,7,8,9,10,20,30,40,50,60,70,80,90,100,200],"tickSize":-3,"labels":false,"title":null}}}},
 {"data":{"name":"cont"},"transform":[{"filter":"datum.p=='b'"}],"mark":{"type":"line","color":"black","strokeWidth":1.3,"clip":true},"encoding":{"x":{"field":"k","type":"quantitative","scale":{"type":"log","domain":[0.51,210],"nice":false},"axis":null},"y":{"field":"kz","type":"quantitative","scale":{"type":"log","domain":[1,250],"nice":false},"axis":{"orient":"left","values":[1,2,3,4,5,6,7,8,9,10,20,30,40,50,60,70,80,90,100,200],"tickSize":-3,"labelPadding":10,"labelExpr":"datum.value == 1 ? '10⁰' : datum.value == 10 ? '10¹' : datum.value == 100 ? '10²' : ''","title":"kzδ","titleX":-13,"titleY":40,"titleAngle":270,"titleAlign":"center","titleBaseline":"middle"}},"detail":{"field":"c","type":"nominal"},"order":{"field":"i","type":"quantitative"},"strokeDash":{"field":"kind","type":"nominal","scale":{"domain":["solid","dashed"],"range":[[1,0],[5,3]]},"legend":null}}},
 {"data":{"name":"vline"},"mark":{"type":"rule","color":"#1f1fff","strokeWidth":1.2,"strokeDash":[6,2,1.5,2]},"encoding":{"x":{"field":"k","type":"quantitative","scale":{"type":"log","domain":[0.51,210],"nice":false},"axis":null}}},
 {"data":{"name":"frac"},"mark":{"type":"rule","color":"#1f1fff","strokeWidth":0.8},"encoding":{"x":{"field":"x1","type":"quantitative","scale":{"type":"log","domain":[0.51,210],"nice":false},"axis":null},"x2":{"field":"x2"},"y":{"field":"y","type":"quantitative","scale":{"type":"log","domain":[1,250],"nice":false},"axis":null}}},
 {"data":{"name":"icons"},"transform":[{"filter":"datum.p=='b'"}],"mark":{"type":"point","shape":"M-1,0A1,0.5,0,1,1,1,0A1,0.5,0,1,1,-1,0Z","filled":false,"color":"black","opacity":1,"strokeWidth":1.1,"size":324},"encoding":{"x":{"field":"x","type":"quantitative","scale":{"type":"log","domain":[0.51,210],"nice":false},"axis":null},"y":{"field":"y","type":"quantitative","scale":{"type":"log","domain":[1,250],"nice":false},"axis":null},"strokeDash":{"field":"kind","type":"nominal","scale":{"domain":["solid","dashed"],"range":[[1,0],[5,3]]},"legend":null}}},
 {"data":{"name":"icons"},"transform":[{"filter":"datum.p=='b'"}],"mark":{"type":"point","shape":"M-1,0A1,0.5,0,1,1,1,0A1,0.5,0,1,1,-1,0Z","filled":false,"color":"black","opacity":1,"strokeWidth":1.1,"size":150},"encoding":{"x":{"field":"x","type":"quantitative","scale":{"type":"log","domain":[0.51,210],"nice":false},"axis":null},"y":{"field":"y","type":"quantitative","scale":{"type":"log","domain":[1,250],"nice":false},"axis":null},"strokeDash":{"field":"kind","type":"nominal","scale":{"domain":["solid","dashed"],"range":[[1,0],[5,3]]},"legend":null}}},
 {"data":{"name":"icons"},"transform":[{"filter":"datum.p=='b'"}],"mark":{"type":"point","shape":"M-1,0A1,0.5,0,1,1,1,0A1,0.5,0,1,1,-1,0Z","filled":false,"color":"black","opacity":1,"strokeWidth":1.1,"size":49},"encoding":{"x":{"field":"x","type":"quantitative","scale":{"type":"log","domain":[0.51,210],"nice":false},"axis":null},"y":{"field":"y","type":"quantitative","scale":{"type":"log","domain":[1,250],"nice":false},"axis":null},"strokeDash":{"field":"kind","type":"nominal","scale":{"domain":["solid","dashed"],"range":[[1,0],[5,3]]},"legend":null}}},
 {"data":{"name":"tup"},"transform":[{"filter":"datum.p=='b'"}],"mark":{"type":"text","font":"Liberation Serif","fontSize":14,"align":"left","baseline":"middle","color":"#1a1a1a"},"encoding":{"x":{"field":"x","type":"quantitative","scale":{"type":"log","domain":[0.51,210],"nice":false},"axis":null},"y":{"field":"y","type":"quantitative","scale":{"type":"log","domain":[1,250],"nice":false},"axis":null},"text":{"field":"t"}}},
 {"data":{"name":"tit"},"transform":[{"filter":"datum.p=='b'"}],"mark":{"type":"text","font":"Liberation Serif","fontStyle":"italic","fontSize":14,"align":"left","baseline":"middle","color":"#1a1a1a"},"encoding":{"x":{"field":"x","type":"quantitative","scale":{"type":"log","domain":[0.51,210],"nice":false},"axis":null},"y":{"field":"y","type":"quantitative","scale":{"type":"log","domain":[1,250],"nice":false},"axis":null},"text":{"field":"t"}}},
 {"data":{"name":"tsub"},"transform":[{"filter":"datum.p=='b'"}],"mark":{"type":"text","font":"Liberation Serif","fontStyle":"italic","fontSize":9,"align":"left","baseline":"middle","color":"#1a1a1a"},"encoding":{"x":{"field":"x","type":"quantitative","scale":{"type":"log","domain":[0.51,210],"nice":false},"axis":null},"y":{"field":"y","type":"quantitative","scale":{"type":"log","domain":[1,250],"nice":false},"axis":null},"text":{"field":"t"}}},
 {"data":{"name":"tsup"},"transform":[{"filter":"datum.p=='b'"}],"mark":{"type":"text","font":"Liberation Serif","fontSize":9,"align":"left","baseline":"middle","color":"#1a1a1a"},"encoding":{"x":{"field":"x","type":"quantitative","scale":{"type":"log","domain":[0.51,210],"nice":false},"axis":null},"y":{"field":"y","type":"quantitative","scale":{"type":"log","domain":[1,250],"nice":false},"axis":null},"text":{"field":"t"}}},
 {"data":{"name":"tb12"},"mark":{"type":"text","font":"Liberation Serif","fontSize":12,"align":"left","baseline":"middle","color":"#1f1fff"},"encoding":{"x":{"field":"x","type":"quantitative","scale":{"type":"log","domain":[0.51,210],"nice":false},"axis":null},"y":{"field":"y","type":"quantitative","scale":{"type":"log","domain":[1,250],"nice":false},"axis":null},"text":{"field":"t"}}},
 {"data":{"name":"tb9"},"mark":{"type":"text","font":"Liberation Serif","fontStyle":"italic","fontSize":9,"align":"left","baseline":"middle","color":"#1f1fff"},"encoding":{"x":{"field":"x","type":"quantitative","scale":{"type":"log","domain":[0.51,210],"nice":false},"axis":null},"y":{"field":"y","type":"quantitative","scale":{"type":"log","domain":[1,250],"nice":false},"axis":null},"text":{"field":"t"}}}
]},
{"width":4,"height":1,"data":{"name":"sp"},"mark":{"type":"point","opacity":0},"view":{"stroke":null}},
{"width":188,"height":129,"resolve":{"axis":{"x":"independent","y":"independent"}},"layer":[
 {"data":{"name":"bg"},"transform":[{"filter":"datum.p=='c'"}],"mark":"rect","encoding":{"x":{"field":"x1","type":"quantitative","scale":{"domain":[-3,3],"nice":false,"zero":false},"axis":{"orient":"bottom","values":[-3,0,3],"labelExpr":"datum.value + ''","labelPadding":6,"title":"Δx/δ","titleX":58,"titleY":2,"titleBaseline":"top","titleAlign":"center"}},"x2":{"field":"x2"},"y":{"field":"z1","type":"quantitative","scale":{"domain":[-2,2],"nice":false,"zero":false},"axis":{"orient":"left","values":[-2,0,2],"labelExpr":"datum.value + ''","labelPadding":10,"title":"Δz/δ","titleX":-14,"titleY":28,"titleAngle":270,"titleAlign":"center","titleBaseline":"middle"}},"y2":{"field":"z2"},"color":{"field":"v","type":"quantitative","scale":{"domain":[-0.09,-0.07,-0.05,-0.03,-0.01,0.01,0.05,0.1,0.2,0.3,0.4,0.49],"range":["#1f5fa8","#3d84c3","#6fa9d6","#9fc8e3","#c6dcec","#f6f5f5","#fbe3d7","#fbcfb9","#f3a283","#dd6c57","#bd2b37","#6e0623"],"interpolate":"rgb","clamp":true},"legend":null}}},
 {"data":{"name":"bg"},"transform":[{"filter":"datum.p=='c'"}],"mark":{"type":"rect","opacity":0},"encoding":{"x":{"field":"x1","type":"quantitative","scale":{"domain":[-3,3],"nice":false,"zero":false},"axis":{"orient":"top","values":[-3,0,3],"labels":false,"title":null}},"x2":{"field":"x2"},"y":{"field":"z1","type":"quantitative","scale":{"domain":[-2,2],"nice":false,"zero":false},"axis":{"orient":"right","values":[-2,0,2],"labels":false,"title":null}},"y2":{"field":"z2"}}},
 {"data":{"name":"hz"},"transform":[{"filter":"datum.p=='c'"}],"mark":{"type":"area","orient":"horizontal","interpolate":"linear","clip":true},"encoding":{"y":{"field":"z","type":"quantitative","scale":{"domain":[-2,2],"nice":false,"zero":false},"axis":null},"x":{"field":"l","type":"quantitative","scale":{"domain":[-3,3],"nice":false,"zero":false},"axis":null,"stack":null},"x2":{"field":"r"},"color":{"field":"v","type":"quantitative","scale":{"domain":[-0.09,-0.07,-0.05,-0.03,-0.01,0.01,0.05,0.1,0.2,0.3,0.4,0.49],"range":["#1f5fa8","#3d84c3","#6fa9d6","#9fc8e3","#c6dcec","#f6f5f5","#fbe3d7","#fbcfb9","#f3a283","#dd6c57","#bd2b37","#6e0623"],"interpolate":"rgb","clamp":true},"legend":null},"detail":{"field":"id","type":"nominal"}}},
 {"data":{"name":"blob"},"transform":[{"filter":"datum.p=='c'"}],"mark":{"type":"area","interpolate":"linear","clip":true},"encoding":{"x":{"field":"x","type":"quantitative","scale":{"domain":[-3,3],"nice":false,"zero":false},"axis":null},"y":{"field":"t","type":"quantitative","scale":{"domain":[-2,2],"nice":false,"zero":false},"axis":null,"stack":null},"y2":{"field":"b"},"color":{"field":"v","type":"quantitative","scale":{"domain":[-0.09,-0.07,-0.05,-0.03,-0.01,0.01,0.05,0.1,0.2,0.3,0.4,0.49],"range":["#1f5fa8","#3d84c3","#6fa9d6","#9fc8e3","#c6dcec","#f6f5f5","#fbe3d7","#fbcfb9","#f3a283","#dd6c57","#bd2b37","#6e0623"],"interpolate":"rgb","clamp":true},"legend":null},"detail":{"field":"id","type":"nominal"}}},
 {"data":{"name":"ell"},"transform":[{"filter":"datum.p=='c'"}],"mark":{"type":"area","interpolate":"monotone","clip":true},"encoding":{"x":{"field":"x","type":"quantitative","scale":{"domain":[-3,3],"nice":false,"zero":false},"axis":null},"y":{"field":"t","type":"quantitative","scale":{"domain":[-2,2],"nice":false,"zero":false},"axis":null,"stack":null},"y2":{"field":"b"},"color":{"field":"v","type":"quantitative","scale":{"domain":[-0.09,-0.07,-0.05,-0.03,-0.01,0.01,0.05,0.1,0.2,0.3,0.4,0.49],"range":["#1f5fa8","#3d84c3","#6fa9d6","#9fc8e3","#c6dcec","#f6f5f5","#fbe3d7","#fbcfb9","#f3a283","#dd6c57","#bd2b37","#6e0623"],"interpolate":"rgb","clamp":true},"legend":null},"detail":{"field":"id","type":"nominal"}}},
 {"data":{"name":"tup"},"transform":[{"filter":"datum.p=='c'"}],"mark":{"type":"text","font":"Liberation Serif","fontSize":14,"align":"left","baseline":"middle","color":"#1a1a1a"},"encoding":{"x":{"field":"x","type":"quantitative","scale":{"domain":[-3,3],"nice":false,"zero":false},"axis":null},"y":{"field":"y","type":"quantitative","scale":{"domain":[-2,2],"nice":false,"zero":false},"axis":null},"text":{"field":"t"}}}
]},
{"width":16,"height":134,"layer":[
 {"data":{"name":"cbar"},"mark":"rect","encoding":{"y":{"field":"lo","type":"quantitative","scale":{"domain":[-0.1,0.5],"nice":false,"zero":false},"axis":{"orient":"right","values":[0,0.2,0.4],"labelExpr":"datum.value + ''","labelPadding":9,"tickSize":-3,"title":null}},"y2":{"field":"hi"},"color":{"field":"v","type":"quantitative","scale":{"domain":[-0.09,-0.07,-0.05,-0.03,-0.01,0.01,0.05,0.1,0.2,0.3,0.4,0.49],"range":["#1f5fa8","#3d84c3","#6fa9d6","#9fc8e3","#c6dcec","#f6f5f5","#fbe3d7","#fbcfb9","#f3a283","#dd6c57","#bd2b37","#6e0623"],"interpolate":"rgb","clamp":true},"legend":null}}},
 {"data":{"name":"rho"},"mark":{"type":"text","font":"Liberation Serif","fontStyle":"italic","fontSize":17,"align":"left","baseline":"middle","dx":-2,"color":"#262626"},"encoding":{"y":{"field":"y","type":"quantitative","scale":{"domain":[-0.1,0.5],"nice":false,"zero":false},"axis":null},"text":{"field":"t"}}},
 {"data":{"name":"rhos"},"mark":{"type":"text","font":"Liberation Serif","fontStyle":"italic","fontSize":10,"align":"left","baseline":"middle","dx":7,"color":"#262626"},"encoding":{"y":{"field":"y","type":"quantitative","scale":{"domain":[-0.1,0.5],"nice":false,"zero":false},"axis":null},"text":{"field":"t"}}}
]},
{"width":188,"height":124,"resolve":{"axis":{"x":"independent","y":"independent"}},"layer":[
 {"data":{"name":"bg"},"transform":[{"filter":"datum.p=='d'"}],"mark":"rect","encoding":{"x":{"field":"x1","type":"quantitative","scale":{"domain":[-3,3],"nice":false,"zero":false},"axis":{"orient":"bottom","values":[-3,0,3],"labelExpr":"datum.value + ''","labelPadding":6,"title":"ΔtU∞/δ","titleX":47,"titleY":2,"titleBaseline":"top","titleAlign":"center"}},"x2":{"field":"x2"},"y":{"field":"z1","type":"quantitative","scale":{"domain":[-2,2],"nice":false,"zero":false},"axis":{"orient":"left","values":[-2,0,2],"labelExpr":"datum.value + ''","labelPadding":10,"title":"Δz/δ","titleX":-16,"titleY":22,"titleAngle":270,"titleAlign":"center","titleBaseline":"middle"}},"y2":{"field":"z2"},"color":{"field":"v","type":"quantitative","scale":{"domain":[-0.09,-0.07,-0.05,-0.03,-0.01,0.01,0.05,0.1,0.2,0.3,0.4,0.49],"range":["#1f5fa8","#3d84c3","#6fa9d6","#9fc8e3","#c6dcec","#f6f5f5","#fbe3d7","#fbcfb9","#f3a283","#dd6c57","#bd2b37","#6e0623"],"interpolate":"rgb","clamp":true},"legend":null}}},
 {"data":{"name":"bg"},"transform":[{"filter":"datum.p=='d'"}],"mark":{"type":"rect","opacity":0},"encoding":{"x":{"field":"x1","type":"quantitative","scale":{"domain":[-3,3],"nice":false,"zero":false},"axis":{"orient":"top","values":[-3,0,3],"labels":false,"title":null}},"x2":{"field":"x2"},"y":{"field":"z1","type":"quantitative","scale":{"domain":[-2,2],"nice":false,"zero":false},"axis":{"orient":"right","values":[-2,0,2],"labels":false,"title":null}},"y2":{"field":"z2"}}},
 {"data":{"name":"blob"},"transform":[{"filter":"datum.p=='d'"}],"mark":{"type":"area","interpolate":"linear","clip":true},"encoding":{"x":{"field":"x","type":"quantitative","scale":{"domain":[-3,3],"nice":false,"zero":false},"axis":null},"y":{"field":"t","type":"quantitative","scale":{"domain":[-2,2],"nice":false,"zero":false},"axis":null,"stack":null},"y2":{"field":"b"},"color":{"field":"v","type":"quantitative","scale":{"domain":[-0.09,-0.07,-0.05,-0.03,-0.01,0.01,0.05,0.1,0.2,0.3,0.4,0.49],"range":["#1f5fa8","#3d84c3","#6fa9d6","#9fc8e3","#c6dcec","#f6f5f5","#fbe3d7","#fbcfb9","#f3a283","#dd6c57","#bd2b37","#6e0623"],"interpolate":"rgb","clamp":true},"legend":null},"detail":{"field":"id","type":"nominal"}}},
 {"data":{"name":"ell"},"transform":[{"filter":"datum.p=='d'"}],"mark":{"type":"area","interpolate":"monotone","clip":true},"encoding":{"x":{"field":"x","type":"quantitative","scale":{"domain":[-3,3],"nice":false,"zero":false},"axis":null},"y":{"field":"t","type":"quantitative","scale":{"domain":[-2,2],"nice":false,"zero":false},"axis":null,"stack":null},"y2":{"field":"b"},"color":{"field":"v","type":"quantitative","scale":{"domain":[-0.09,-0.07,-0.05,-0.03,-0.01,0.01,0.05,0.1,0.2,0.3,0.4,0.49],"range":["#1f5fa8","#3d84c3","#6fa9d6","#9fc8e3","#c6dcec","#f6f5f5","#fbe3d7","#fbcfb9","#f3a283","#dd6c57","#bd2b37","#6e0623"],"interpolate":"rgb","clamp":true},"legend":null},"detail":{"field":"id","type":"nominal"}}},
 {"data":{"name":"tup"},"transform":[{"filter":"datum.p=='d'"}],"mark":{"type":"text","font":"Liberation Serif","fontSize":14,"align":"left","baseline":"middle","color":"#1a1a1a"},"encoding":{"x":{"field":"x","type":"quantitative","scale":{"domain":[-3,3],"nice":false,"zero":false},"axis":null},"y":{"field":"y","type":"quantitative","scale":{"domain":[-2,2],"nice":false,"zero":false},"axis":null},"text":{"field":"t"}}}
]},
{"width":16,"height":1,"data":{"name":"sp"},"mark":{"type":"point","opacity":0},"view":{"stroke":null}},
{"width":235,"height":123,"resolve":{"axis":{"x":"independent","y":"independent"}},"layer":[
 {"data":{"name":"shade"},"transform":[{"filter":"datum.p=='e'"}],"mark":{"type":"rect","color":"#f4dcb4"},"encoding":{"x":{"field":"lo","type":"quantitative","scale":{"type":"log","domain":[0.051,21],"nice":false},"axis":{"orient":"bottom","values":[0.06,0.07,0.08,0.09,0.1,0.2,0.3,0.4,0.5,0.6,0.7,0.8,0.9,1,2,3,4,5,6,7,8,9,10,20],"tickSize":-3,"labelPadding":7,"labelExpr":"datum.value == 0.1 ? '10⁻¹' : datum.value == 1 ? '10⁰' : datum.value == 10 ? '10¹' : ''","title":"fδ/U∞","titleX":163,"titleY":2,"titleBaseline":"top","titleAlign":"center"}},"x2":{"field":"hi"}}},
 {"data":{"name":"cont"},"transform":[{"filter":"datum.p=='e'"}],"mark":{"type":"point","opacity":0},"encoding":{"x":{"field":"k","type":"quantitative","scale":{"type":"log","domain":[0.051,21],"nice":false},"axis":{"orient":"top","values":[0.06,0.07,0.08,0.09,0.1,0.2,0.3,0.4,0.5,0.6,0.7,0.8,0.9,1,2,3,4,5,6,7,8,9,10,20],"tickSize":-3,"labels":false,"title":null}},"y":{"field":"kz","type":"quantitative","scale":{"type":"log","domain":[1,250],"nice":false},"axis":{"orient":"right","values":[1,2,3,4,5,6,7,8,9,10,20,30,40,50,60,70,80,90,100,200],"tickSize":-3,"labels":false,"title":null}}}},
 {"data":{"name":"cont"},"transform":[{"filter":"datum.p=='e'"}],"mark":{"type":"line","color":"black","strokeWidth":1.3,"clip":true},"encoding":{"x":{"field":"k","type":"quantitative","scale":{"type":"log","domain":[0.051,21],"nice":false},"axis":null},"y":{"field":"kz","type":"quantitative","scale":{"type":"log","domain":[1,250],"nice":false},"axis":{"orient":"left","values":[1,2,3,4,5,6,7,8,9,10,20,30,40,50,60,70,80,90,100,200],"tickSize":-3,"labelPadding":10,"labelExpr":"datum.value == 1 ? '10⁰' : datum.value == 10 ? '10¹' : datum.value == 100 ? '10²' : ''","title":"kzδ","titleX":-13,"titleY":38,"titleAngle":270,"titleAlign":"center","titleBaseline":"middle"}},"detail":{"field":"c","type":"nominal"},"order":{"field":"i","type":"quantitative"},"strokeDash":{"field":"kind","type":"nominal","scale":{"domain":["solid","dashed"],"range":[[1,0],[5,3]]},"legend":null}}},
 {"data":{"name":"icons"},"transform":[{"filter":"datum.p=='e'"}],"mark":{"type":"point","shape":"M-1,0A1,0.5,0,1,1,1,0A1,0.5,0,1,1,-1,0Z","filled":false,"color":"black","opacity":1,"strokeWidth":1.1,"size":324},"encoding":{"x":{"field":"x","type":"quantitative","scale":{"type":"log","domain":[0.051,21],"nice":false},"axis":null},"y":{"field":"y","type":"quantitative","scale":{"type":"log","domain":[1,250],"nice":false},"axis":null},"strokeDash":{"field":"kind","type":"nominal","scale":{"domain":["solid","dashed"],"range":[[1,0],[5,3]]},"legend":null}}},
 {"data":{"name":"icons"},"transform":[{"filter":"datum.p=='e'"}],"mark":{"type":"point","shape":"M-1,0A1,0.5,0,1,1,1,0A1,0.5,0,1,1,-1,0Z","filled":false,"color":"black","opacity":1,"strokeWidth":1.1,"size":150},"encoding":{"x":{"field":"x","type":"quantitative","scale":{"type":"log","domain":[0.051,21],"nice":false},"axis":null},"y":{"field":"y","type":"quantitative","scale":{"type":"log","domain":[1,250],"nice":false},"axis":null},"strokeDash":{"field":"kind","type":"nominal","scale":{"domain":["solid","dashed"],"range":[[1,0],[5,3]]},"legend":null}}},
 {"data":{"name":"icons"},"transform":[{"filter":"datum.p=='e'"}],"mark":{"type":"point","shape":"M-1,0A1,0.5,0,1,1,1,0A1,0.5,0,1,1,-1,0Z","filled":false,"color":"black","opacity":1,"strokeWidth":1.1,"size":49},"encoding":{"x":{"field":"x","type":"quantitative","scale":{"type":"log","domain":[0.051,21],"nice":false},"axis":null},"y":{"field":"y","type":"quantitative","scale":{"type":"log","domain":[1,250],"nice":false},"axis":null},"strokeDash":{"field":"kind","type":"nominal","scale":{"domain":["solid","dashed"],"range":[[1,0],[5,3]]},"legend":null}}},
 {"data":{"name":"tup"},"transform":[{"filter":"datum.p=='e'"}],"mark":{"type":"text","font":"Liberation Serif","fontSize":14,"align":"left","baseline":"middle","color":"#1a1a1a"},"encoding":{"x":{"field":"x","type":"quantitative","scale":{"type":"log","domain":[0.051,21],"nice":false},"axis":null},"y":{"field":"y","type":"quantitative","scale":{"type":"log","domain":[1,250],"nice":false},"axis":null},"text":{"field":"t"}}},
 {"data":{"name":"tit"},"transform":[{"filter":"datum.p=='e'"}],"mark":{"type":"text","font":"Liberation Serif","fontStyle":"italic","fontSize":14,"align":"left","baseline":"middle","color":"#1a1a1a"},"encoding":{"x":{"field":"x","type":"quantitative","scale":{"type":"log","domain":[0.051,21],"nice":false},"axis":null},"y":{"field":"y","type":"quantitative","scale":{"type":"log","domain":[1,250],"nice":false},"axis":null},"text":{"field":"t"}}},
 {"data":{"name":"tsub"},"transform":[{"filter":"datum.p=='e'"}],"mark":{"type":"text","font":"Liberation Serif","fontStyle":"italic","fontSize":9,"align":"left","baseline":"middle","color":"#1a1a1a"},"encoding":{"x":{"field":"x","type":"quantitative","scale":{"type":"log","domain":[0.051,21],"nice":false},"axis":null},"y":{"field":"y","type":"quantitative","scale":{"type":"log","domain":[1,250],"nice":false},"axis":null},"text":{"field":"t"}}},
 {"data":{"name":"tsup"},"transform":[{"filter":"datum.p=='e'"}],"mark":{"type":"text","font":"Liberation Serif","fontSize":9,"align":"left","baseline":"middle","color":"#1a1a1a"},"encoding":{"x":{"field":"x","type":"quantitative","scale":{"type":"log","domain":[0.051,21],"nice":false},"axis":null},"y":{"field":"y","type":"quantitative","scale":{"type":"log","domain":[1,250],"nice":false},"axis":null},"text":{"field":"t"}}}
]},
{"width":4,"height":1,"data":{"name":"sp"},"mark":{"type":"point","opacity":0},"view":{"stroke":null}},
{"width":188,"height":132,"resolve":{"axis":{"x":"independent","y":"independent"}},"layer":[
 {"data":{"name":"bg"},"transform":[{"filter":"datum.p=='f'"}],"mark":"rect","encoding":{"x":{"field":"x1","type":"quantitative","scale":{"domain":[-3,3],"nice":false,"zero":false},"axis":{"orient":"bottom","values":[-3,0,3],"labelExpr":"datum.value + ''","labelPadding":6,"title":"ΔtU∞/δ","titleX":52,"titleY":2,"titleBaseline":"top","titleAlign":"center"}},"x2":{"field":"x2"},"y":{"field":"z1","type":"quantitative","scale":{"domain":[-2,2],"nice":false,"zero":false},"axis":{"orient":"left","values":[-2,0,2],"labelExpr":"datum.value + ''","labelPadding":10,"title":"Δz/δ","titleX":-14,"titleY":29,"titleAngle":270,"titleAlign":"center","titleBaseline":"middle"}},"y2":{"field":"z2"},"color":{"field":"v","type":"quantitative","scale":{"domain":[-0.09,-0.07,-0.05,-0.03,-0.01,0.01,0.05,0.1,0.2,0.3,0.4,0.49],"range":["#1f5fa8","#3d84c3","#6fa9d6","#9fc8e3","#c6dcec","#f6f5f5","#fbe3d7","#fbcfb9","#f3a283","#dd6c57","#bd2b37","#6e0623"],"interpolate":"rgb","clamp":true},"legend":null}}},
 {"data":{"name":"bg"},"transform":[{"filter":"datum.p=='f'"}],"mark":{"type":"rect","opacity":0},"encoding":{"x":{"field":"x1","type":"quantitative","scale":{"domain":[-3,3],"nice":false,"zero":false},"axis":{"orient":"top","values":[-3,0,3],"labels":false,"title":null}},"x2":{"field":"x2"},"y":{"field":"z1","type":"quantitative","scale":{"domain":[-2,2],"nice":false,"zero":false},"axis":{"orient":"right","values":[-2,0,2],"labels":false,"title":null}},"y2":{"field":"z2"}}},
 {"data":{"name":"hz"},"transform":[{"filter":"datum.p=='f'"}],"mark":{"type":"area","orient":"horizontal","interpolate":"monotone","clip":true},"encoding":{"y":{"field":"z","type":"quantitative","scale":{"domain":[-2,2],"nice":false,"zero":false},"axis":null},"x":{"field":"l","type":"quantitative","scale":{"domain":[-3,3],"nice":false,"zero":false},"axis":null,"stack":null},"x2":{"field":"r"},"color":{"field":"v","type":"quantitative","scale":{"domain":[-0.09,-0.07,-0.05,-0.03,-0.01,0.01,0.05,0.1,0.2,0.3,0.4,0.49],"range":["#1f5fa8","#3d84c3","#6fa9d6","#9fc8e3","#c6dcec","#f6f5f5","#fbe3d7","#fbcfb9","#f3a283","#dd6c57","#bd2b37","#6e0623"],"interpolate":"rgb","clamp":true},"legend":null},"detail":{"field":"id","type":"nominal"}}},
 {"data":{"name":"blob"},"transform":[{"filter":"datum.p=='f'"}],"mark":{"type":"area","interpolate":"linear","clip":true},"encoding":{"x":{"field":"x","type":"quantitative","scale":{"domain":[-3,3],"nice":false,"zero":false},"axis":null},"y":{"field":"t","type":"quantitative","scale":{"domain":[-2,2],"nice":false,"zero":false},"axis":null,"stack":null},"y2":{"field":"b"},"color":{"field":"v","type":"quantitative","scale":{"domain":[-0.09,-0.07,-0.05,-0.03,-0.01,0.01,0.05,0.1,0.2,0.3,0.4,0.49],"range":["#1f5fa8","#3d84c3","#6fa9d6","#9fc8e3","#c6dcec","#f6f5f5","#fbe3d7","#fbcfb9","#f3a283","#dd6c57","#bd2b37","#6e0623"],"interpolate":"rgb","clamp":true},"legend":null},"detail":{"field":"id","type":"nominal"}}},
 {"data":{"name":"ell"},"transform":[{"filter":"datum.p=='f'"}],"mark":{"type":"area","interpolate":"monotone","clip":true},"encoding":{"x":{"field":"x","type":"quantitative","scale":{"domain":[-3,3],"nice":false,"zero":false},"axis":null},"y":{"field":"t","type":"quantitative","scale":{"domain":[-2,2],"nice":false,"zero":false},"axis":null,"stack":null},"y2":{"field":"b"},"color":{"field":"v","type":"quantitative","scale":{"domain":[-0.09,-0.07,-0.05,-0.03,-0.01,0.01,0.05,0.1,0.2,0.3,0.4,0.49],"range":["#1f5fa8","#3d84c3","#6fa9d6","#9fc8e3","#c6dcec","#f6f5f5","#fbe3d7","#fbcfb9","#f3a283","#dd6c57","#bd2b37","#6e0623"],"interpolate":"rgb","clamp":true},"legend":null},"detail":{"field":"id","type":"nominal"}}},
 {"data":{"name":"tup"},"transform":[{"filter":"datum.p=='f'"}],"mark":{"type":"text","font":"Liberation Serif","fontSize":14,"align":"left","baseline":"middle","color":"#1a1a1a"},"encoding":{"x":{"field":"x","type":"quantitative","scale":{"domain":[-3,3],"nice":false,"zero":false},"axis":null},"y":{"field":"y","type":"quantitative","scale":{"domain":[-2,2],"nice":false,"zero":false},"axis":null},"text":{"field":"t"}}}
]},
{"width":16,"height":134,"layer":[
 {"data":{"name":"cbar"},"mark":"rect","encoding":{"y":{"field":"lo","type":"quantitative","scale":{"domain":[-0.1,0.5],"nice":false,"zero":false},"axis":{"orient":"right","values":[0,0.2,0.4],"labelExpr":"datum.value + ''","labelPadding":9,"tickSize":-3,"title":null}},"y2":{"field":"hi"},"color":{"field":"v","type":"quantitative","scale":{"domain":[-0.09,-0.07,-0.05,-0.03,-0.01,0.01,0.05,0.1,0.2,0.3,0.4,0.49],"range":["#1f5fa8","#3d84c3","#6fa9d6","#9fc8e3","#c6dcec","#f6f5f5","#fbe3d7","#fbcfb9","#f3a283","#dd6c57","#bd2b37","#6e0623"],"interpolate":"rgb","clamp":true},"legend":null}}},
 {"data":{"name":"rho"},"mark":{"type":"text","font":"Liberation Serif","fontStyle":"italic","fontSize":17,"align":"left","baseline":"middle","dx":-2,"color":"#262626"},"encoding":{"y":{"field":"y","type":"quantitative","scale":{"domain":[-0.1,0.5],"nice":false,"zero":false},"axis":null},"text":{"field":"t"}}},
 {"data":{"name":"rhos"},"mark":{"type":"text","font":"Liberation Serif","fontStyle":"italic","fontSize":10,"align":"left","baseline":"middle","dx":7,"color":"#262626"},"encoding":{"y":{"field":"y","type":"quantitative","scale":{"domain":[-0.1,0.5],"nice":false,"zero":false},"axis":null},"text":{"field":"t"}}}
]}
],
"columns":6,
"spacing":{"row":35,"column":13},
"align":"each",
"bounds":"flush",
"config":{
 "view":{"stroke":"#262626","strokeWidth":1},
 "axis":{"domain":false,"grid":false,"tickSize":-4,"tickColor":"#262626","labelFont":"Liberation Sans, DejaVu Sans","labelFontSize":16,"labelColor":"#262626","labelFlush":false,"labelOverlap":false,"titleFont":"Liberation Serif, DejaVu Serif","titleFontStyle":"italic","titleFontWeight":"normal","titleFontSize":18,"titleColor":"#262626"}
}
}
